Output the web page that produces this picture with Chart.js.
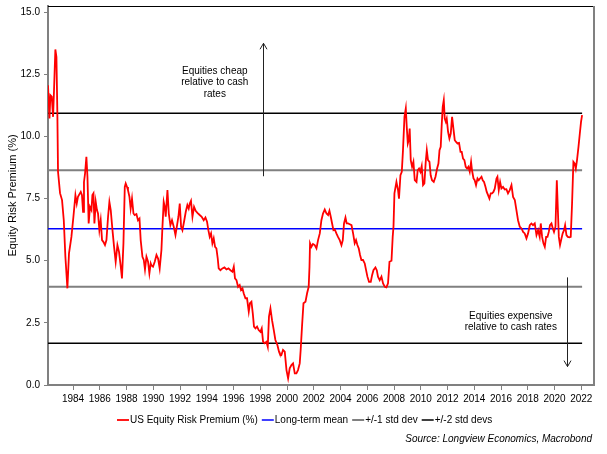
<!DOCTYPE html>
<html lang="en">
<head>
<meta charset="UTF-8" />
<title>US Equity Risk Premium</title>
<script src="https://cdn.jsdelivr.net/npm/chart.js"></script>
<style>
  html, body { margin: 0; padding: 0; background: #fff; }
  #wrap { width: 607px; height: 454px; }
</style>
</head>
<body>
<div id="wrap"><canvas id="erpChart"></canvas></div>
<script>
// decimal years and the risk premium
const years = [
  1982.13,1982.24,1982.31,1982.41,1982.51,1982.58,1982.68,1982.76,1982.83,1982.88,
  1983.03,1983.18,1983.31,1983.43,1983.58,1983.70,1983.88,1984.03,1984.18,1984.28,
  1984.37,1984.58,1984.67,1984.75,1984.82,1984.90,1985.00,1985.08,1985.17,1985.27,
  1985.38,1985.45,1985.53,1985.60,1985.70,1985.79,1985.87,1985.97,1986.07,1986.17,
  1986.27,1986.39,1986.50,1986.62,1986.72,1986.82,1986.95,1987.07,1987.19,1987.32,
  1987.44,1987.57,1987.66,1987.77,1987.87,1987.94,1988.04,1988.11,1988.22,1988.31,
  1988.41,1988.52,1988.61,1988.74,1988.86,1988.97,1989.06,1989.19,1989.29,1989.38,
  1989.49,1989.61,1989.71,1989.81,1989.86,1989.98,1990.11,1990.24,1990.36,1990.48,
  1990.61,1990.68,1990.78,1990.86,1990.93,1991.06,1991.16,1991.28,1991.40,1991.53,
  1991.66,1991.78,1991.88,1991.98,1992.08,1992.18,1992.30,1992.43,1992.55,1992.65,
  1992.73,1992.82,1992.93,1993.05,1993.17,1993.30,1993.47,1993.62,1993.77,1993.90,
  1994.02,1994.12,1994.22,1994.32,1994.42,1994.52,1994.62,1994.72,1994.82,1994.89,
  1995.02,1995.17,1995.32,1995.47,1995.62,1995.77,1995.92,1996.02,1996.11,1996.22,
  1996.34,1996.46,1996.56,1996.67,1996.76,1996.89,1997.01,1997.14,1997.23,1997.34,
  1997.44,1997.53,1997.64,1997.76,1997.88,1998.01,1998.11,1998.21,1998.33,1998.46,
  1998.56,1998.65,1998.76,1998.88,1999.01,1999.13,1999.28,1999.40,1999.45,1999.58,
  1999.70,1999.83,1999.96,2000.08,2000.20,2000.33,2000.45,2000.58,2000.70,2000.82,
  2000.95,2001.02,2001.12,2001.23,2001.38,2001.50,2001.62,2001.68,2001.72,2001.82,
  2001.94,2002.07,2002.20,2002.32,2002.45,2002.57,2002.69,2002.82,2002.95,2003.07,
  2003.17,2003.27,2003.37,2003.47,2003.57,2003.69,2003.81,2003.94,2004.07,2004.17,
  2004.26,2004.37,2004.46,2004.56,2004.69,2004.82,2004.94,2005.06,2005.16,2005.26,
  2005.36,2005.46,2005.56,2005.68,2005.81,2005.91,2006.01,2006.13,2006.26,2006.36,
  2006.46,2006.61,2006.71,2006.80,2006.93,2007.06,2007.18,2007.31,2007.43,2007.55,
  2007.66,2007.81,2007.90,2007.96,2008.03,2008.18,2008.30,2008.37,2008.48,2008.58,
  2008.67,2008.78,2008.88,2008.95,2009.03,2009.10,2009.17,2009.25,2009.35,2009.45,
  2009.55,2009.68,2009.77,2009.87,2009.97,2010.07,2010.17,2010.27,2010.37,2010.45,
  2010.54,2010.65,2010.74,2010.84,2010.97,2011.10,2011.22,2011.32,2011.40,2011.49,
  2011.57,2011.64,2011.72,2011.79,2011.87,2011.94,2012.04,2012.14,2012.24,2012.34,
  2012.44,2012.54,2012.64,2012.74,2012.86,2012.97,2013.06,2013.16,2013.26,2013.36,
  2013.46,2013.56,2013.66,2013.76,2013.83,2013.94,2014.03,2014.13,2014.24,2014.33,
  2014.43,2014.54,2014.63,2014.73,2014.84,2014.93,2015.03,2015.13,2015.23,2015.33,
  2015.43,2015.53,2015.66,2015.73,2015.83,2015.93,2016.03,2016.15,2016.28,2016.40,
  2016.52,2016.65,2016.78,2016.90,2017.03,2017.15,2017.27,2017.40,2017.53,2017.65,
  2017.77,2017.90,2018.02,2018.15,2018.27,2018.39,2018.52,2018.65,2018.77,2018.89,
  2018.97,2019.07,2019.17,2019.27,2019.37,2019.47,2019.57,2019.66,2019.77,2019.87,
  2019.96,2020.07,2020.17,2020.24,2020.32,2020.41,2020.52,2020.61,2020.71,2020.79,
  2020.89,2020.99,2021.12,2021.21,2021.31,2021.41,2021.51,2021.59,2021.68,2021.79,
  2021.89,2021.98,2022.06
];
const premium = [
  12.06,10.72,11.66,11.60,10.79,11.86,13.50,13.20,10.92,8.58,
  7.72,7.44,6.63,5.16,3.89,5.30,5.96,6.77,7.64,7.30,
  7.57,7.77,7.64,6.97,8.17,8.51,9.18,8.38,6.50,7.17,
  7.04,7.64,7.71,6.50,7.37,7.04,6.90,6.23,6.63,5.83,
  5.76,5.63,5.83,6.77,7.37,7.04,6.23,5.56,4.96,5.63,
  5.36,4.76,4.29,5.70,7.97,8.11,7.97,7.84,7.57,7.10,
  7.50,6.90,6.84,6.88,6.63,6.70,5.83,5.16,5.03,4.65,
  5.16,4.96,4.49,4.89,4.82,4.76,4.96,5.23,5.09,4.69,
  5.43,6.30,7.37,7.17,6.77,7.84,6.90,6.43,6.63,6.37,
  6.03,6.43,6.77,7.30,6.37,6.23,6.57,6.97,7.24,7.10,
  7.30,7.41,6.77,7.17,7.01,6.93,6.84,6.77,6.63,6.74,
  6.57,6.23,5.96,6.10,5.70,5.90,5.56,5.50,5.09,4.69,
  4.62,4.69,4.73,4.65,4.69,4.62,4.56,4.76,4.29,4.22,
  3.95,4.02,3.82,3.89,3.69,3.49,3.49,2.95,3.29,3.35,
  2.88,2.35,2.28,2.35,2.21,2.14,2.28,1.74,1.68,1.74,
  1.54,2.75,3.08,2.61,2.21,1.81,1.61,1.34,1.27,1.21,
  1.41,1.34,0.60,0.27,0.67,0.80,0.87,0.47,0.47,0.60,
  0.87,1.41,2.35,3.29,3.35,3.69,3.95,4.76,5.70,5.56,
  5.67,5.63,5.50,5.83,6.10,6.63,6.90,7.06,6.90,6.84,
  7.01,6.77,6.50,6.23,6.26,6.10,5.96,5.83,5.63,5.83,
  6.50,6.74,6.50,6.50,6.47,6.43,6.10,5.70,5.83,5.63,
  5.50,5.23,5.03,5.03,4.89,4.62,4.36,4.15,4.15,4.42,
  4.62,4.73,4.62,4.36,4.22,4.36,4.09,3.95,3.93,4.09,
  4.96,5.00,5.96,6.37,7.71,8.17,7.84,7.50,8.44,8.58,
  9.45,10.79,11.13,10.39,9.72,9.85,10.32,9.05,8.78,8.98,
  8.24,8.17,8.64,8.71,8.58,8.81,8.04,8.11,8.98,9.45,
  9.05,8.98,8.44,8.24,8.17,8.38,8.71,8.91,9.45,9.58,
  10.52,11.19,11.46,10.72,10.59,10.72,10.19,9.92,10.12,10.79,
  10.32,9.85,9.78,9.72,9.74,9.38,9.38,9.11,9.05,8.78,
  8.71,8.78,8.58,8.98,8.64,8.31,8.24,8.04,8.31,8.24,
  8.31,8.38,8.24,8.17,7.97,7.77,7.64,7.50,7.71,7.71,
  7.77,7.90,8.31,8.38,7.84,8.17,7.91,7.97,7.87,7.88,
  7.71,7.84,8.04,7.57,7.44,7.04,6.63,6.37,6.30,6.16,
  6.10,5.90,6.10,6.43,6.50,6.43,6.50,6.03,6.23,5.96,
  6.50,5.96,5.70,5.56,5.96,5.96,6.16,6.43,6.50,6.30,
  6.16,6.37,8.24,7.17,5.96,5.63,5.90,6.10,6.23,6.43,
  6.03,5.96,5.94,5.96,7.30,8.98,8.91,8.71,9.05,9.58,
  10.12,10.59,10.86
];

// reference levels
const meanLevel = 6.29;
const oneSdLevels = [8.64, 3.95];
const twoSdLevels = [10.93, 1.68];

const xTicks = [1984,1986,1988,1990,1992,1994,1996,1998,2000,2002,2004,2006,2008,2010,2012,2014,2016,2018,2020,2022];
const yTicks = [0, 2.5, 5, 7.5, 10, 12.5, 15];

const FONT = "'Liberation Sans', Arial, sans-serif";
const first = years[0], last = years[years.length - 1];

function levelLine(levels) {
  const pts = [];
  levels.forEach((v, i) => {
    if (i > 0) pts.push({ x: first, y: null });
    pts.push({ x: first, y: v }, { x: last, y: v });
  });
  return pts;
}

// arrows and notes drawn in data units
const notes = {
  up:   { x: 1998.18, from: 8.4, to: 13.75 },
  down: { x: 2020.91, from: 4.33, to: 0.74 },
  cheap: { x: 1994.6, y: [12.62, 12.18, 11.71], lines: ['Equities cheap', 'relative to cash', 'rates'] },
  dear:  { x: 2016.73, y: [2.77, 2.34], lines: ['Equities expensive', 'relative to cash rates'] }
};

const framePlugin = {
  id: 'frame',
  afterDatasetsDraw(chart) {
    const { ctx, chartArea: a, scales: { x, y } } = chart;
    ctx.save();
    // top and right border
    ctx.strokeStyle = '#000';
    ctx.lineWidth = 1;
    ctx.beginPath();
    ctx.moveTo(a.left, a.top + 0.5);
    ctx.lineTo(a.right, a.top + 0.5);
    ctx.stroke();
    ctx.strokeStyle = '#808080';
    ctx.lineWidth = 2;
    ctx.beginPath();
    ctx.moveTo(a.right, a.top);
    ctx.lineTo(a.right, a.bottom);
    ctx.stroke();

    // arrows
    ctx.strokeStyle = '#222';
    ctx.lineWidth = 1;
    [notes.up, notes.down].forEach(n => {
      const px = Math.round(x.getPixelForValue(n.x)) + 0.5;
      const y1 = y.getPixelForValue(n.from), y2 = y.getPixelForValue(n.to);
      const dir = y2 < y1 ? 1 : -1;
      ctx.beginPath();
      ctx.moveTo(px, y1);
      ctx.lineTo(px, y2);
      ctx.moveTo(px - 3.5, y2 + dir * 6);
      ctx.lineTo(px, y2);
      ctx.lineTo(px + 3.5, y2 + dir * 6);
      ctx.stroke();
    });

    // notes
    ctx.fillStyle = '#000';
    ctx.font = '10px ' + FONT;
    ctx.textAlign = 'center';
    ctx.textBaseline = 'middle';
    [notes.cheap, notes.dear].forEach(n => {
      const px = x.getPixelForValue(n.x);
      n.lines.forEach((t, i) => ctx.fillText(t, px, y.getPixelForValue(n.y[i])));
    });
    ctx.restore();
  },
  afterDraw(chart) {
    // legend row and source line under the axis
    const { ctx } = chart;
    ctx.save();
    ctx.font = '10px ' + FONT;
    ctx.textBaseline = 'middle';
    ctx.textAlign = 'left';
    let lx = 117;
    const ly = 420;
    chart.data.datasets.forEach(ds => {
      ctx.strokeStyle = ds.borderColor;
      ctx.lineWidth = ds.borderWidth;
      ctx.beginPath();
      ctx.moveTo(lx, ly);
      ctx.lineTo(lx + 12, ly);
      ctx.stroke();
      ctx.fillStyle = '#000';
      ctx.fillText(ds.label, lx + 13, ly);
      lx += 13 + ctx.measureText(ds.label).width + 4;
    });
    ctx.font = 'italic 10px ' + FONT;
    ctx.textAlign = 'right';
    ctx.fillText('Source: Longview Economics, Macrobond', 592, 439);
    ctx.restore();
  }
};

new Chart(document.getElementById('erpChart'), {
  type: 'line',
  data: {
    datasets: [
      {
        label: 'US Equity Risk Premium (%)',
        data: years.map((yr, i) => ({ x: yr, y: premium[i] })),
        borderColor: '#ff0000',
        borderWidth: 1.8,
        pointRadius: 0,
        tension: 0
      },
      {
        label: 'Long-term mean',
        data: levelLine([meanLevel]),
        borderColor: '#0000ff',
        borderWidth: 1.5,
        pointRadius: 0
      },
      {
        label: '+/-1 std dev',
        data: levelLine(oneSdLevels),
        borderColor: '#808080',
        borderWidth: 2,
        pointRadius: 0,
        spanGaps: false
      },
      {
        label: '+/-2 std devs',
        data: levelLine(twoSdLevels),
        borderColor: '#000000',
        borderWidth: 1.5,
        pointRadius: 0,
        spanGaps: false
      }
    ]
  },
  options: {
    responsive: true,
    maintainAspectRatio: false,
    animation: false,
    layout: { padding: { top: 6, right: 13, bottom: 49, left: 0 } },
    plugins: {
      tooltip: { enabled: false },
      legend: { display: false },
      title: { display: false }
    },
    scales: {
      x: {
        type: 'linear',
        min: 1982.13,
        max: 2022.95,
        afterBuildTicks: s => { s.ticks = xTicks.map(v => ({ value: v })); },
        afterFit: s => { s.height = 20; s.paddingLeft = 0; s.paddingRight = 0; },
        ticks: {
          callback: v => String(v),
          color: '#000',
          maxRotation: 0,
          autoSkip: false,
          padding: 3,
          font: { family: FONT, size: 10 }
        },
        grid: { drawOnChartArea: false, drawTicks: true, tickLength: 5, color: '#808080' },
        border: { color: '#808080', width: 2 }
      },
      y: {
        min: 0,
        max: 15.25,
        afterBuildTicks: s => { s.ticks = yTicks.map(v => ({ value: v })); },
        afterFit: s => { s.width = 48; s.paddingTop = 0; s.paddingBottom = 0; },
        ticks: {
          callback: v => v.toFixed(1),
          color: '#000',
          padding: 4,
          font: { family: FONT, size: 10 }
        },
        grid: { drawOnChartArea: false, drawTicks: true, tickLength: 4, color: '#808080' },
        border: { color: '#808080', width: 2 },
        title: {
          display: true,
          text: 'Equity Risk Premium (%)',
          color: '#000',
          padding: { top: 6, bottom: 0 },
          font: { family: FONT, size: 11 }
        }
      }
    }
  },
  plugins: [framePlugin]
});
</script>
</body>
</html>
